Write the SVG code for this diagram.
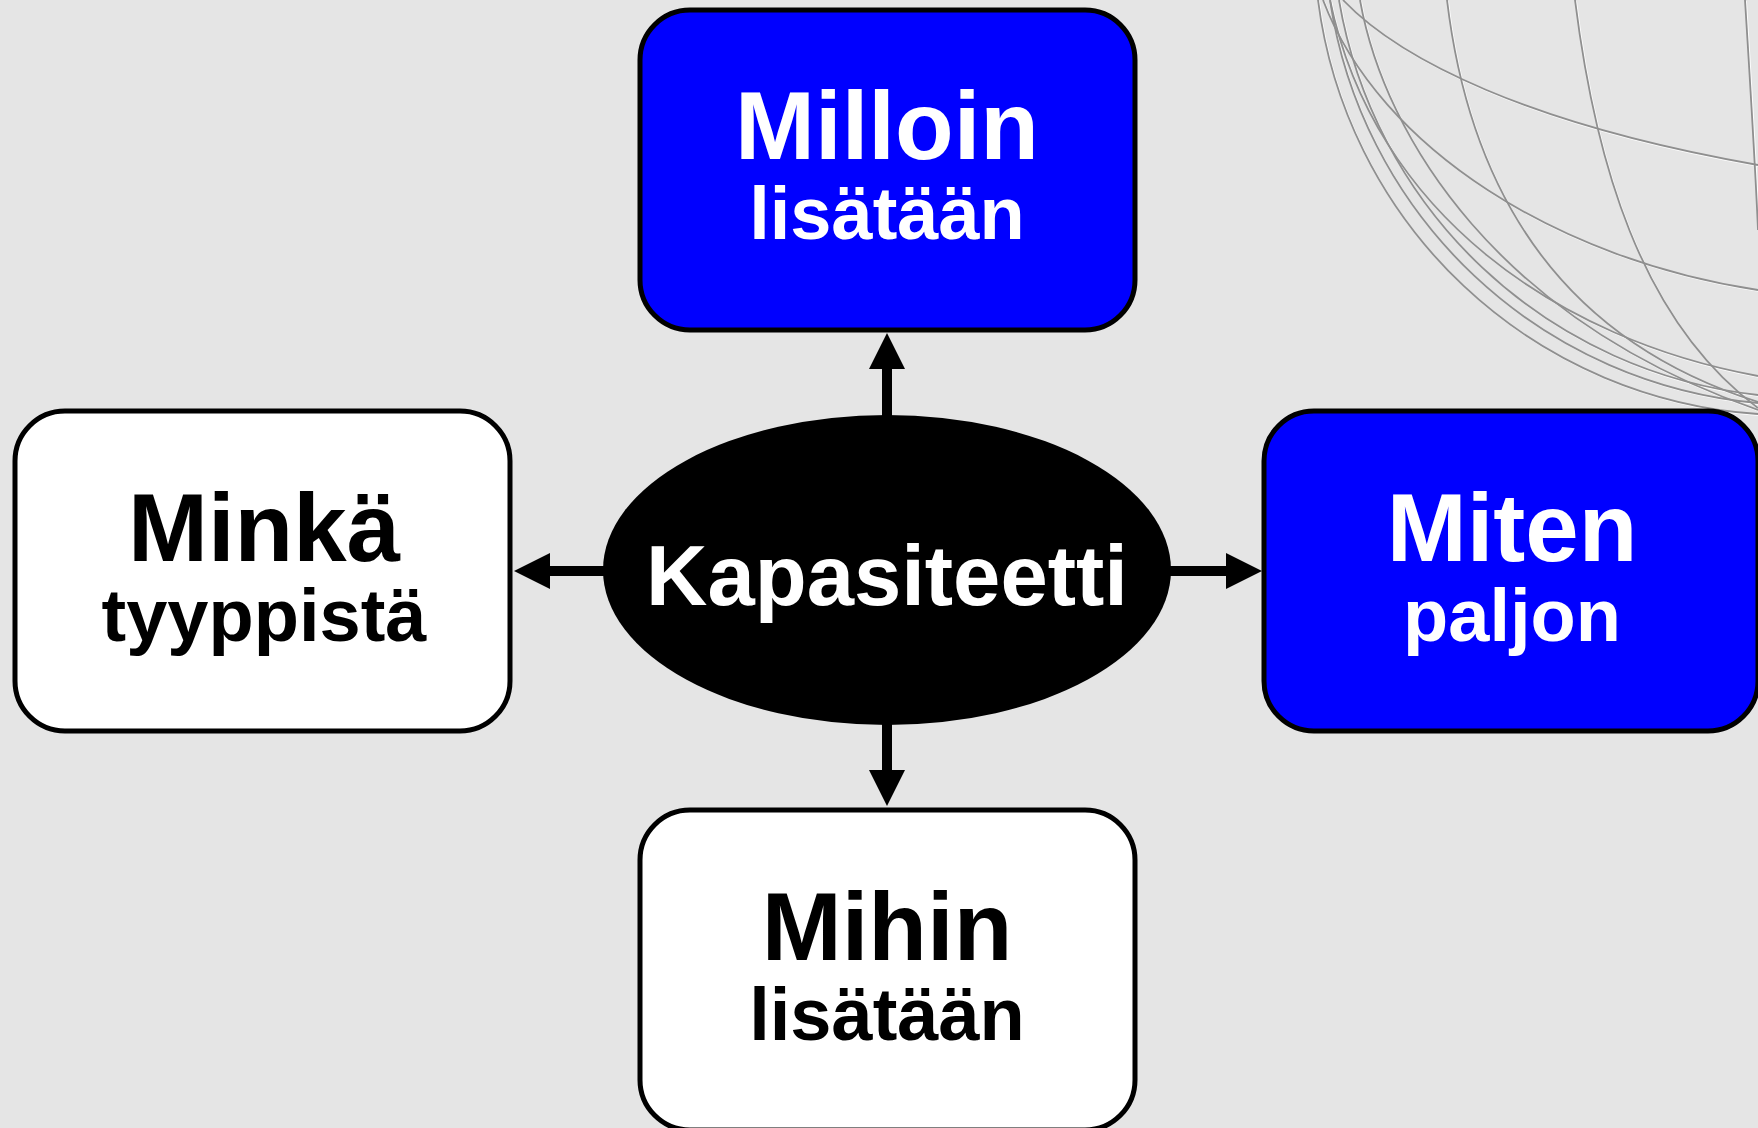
<svg xmlns="http://www.w3.org/2000/svg" xmlns:xlink="http://www.w3.org/1999/xlink" width="1758" height="1128" viewBox="0 0 1758 1128">
  <style>
    .box { stroke: #000; stroke-width: 5; }
    .blue { fill: #0000ff; }
    .white { fill: #ffffff; }
    .lbl { font-family: "Liberation Sans", Arial, sans-serif; font-weight: bold; text-anchor: middle; }
    .big { font-size: 96px; }
    .small { font-size: 74px; }
    .on-dark { fill: #ffffff; }
    .on-light { fill: #000000; }
    .conn { stroke: #000; stroke-width: 10; fill: none; marker-end: url(#head); }
    .wire { fill: none; stroke: #8f8f8f; stroke-width: 1.8; }
    .wire-hi { fill: none; stroke: #ffffff; stroke-width: 1.4; opacity: 0.9; }
  </style>
  <defs>
    <marker id="head" viewBox="0 0 36 36" refX="6" refY="18" markerWidth="36" markerHeight="36" markerUnits="userSpaceOnUse" orient="auto">
      <path d="M0,0 L36,18 L0,36 Z" fill="#000"/>
    </marker>
    <!-- wireframe globe in the top-right corner -->
    <g id="globe-lines">
      <path d="M1318,0 A475,475 0 0,0 1758,414"/>
      <path d="M1330,0 A475,475 0 0,0 1758,403"/>
      <path d="M1339,0 A478,478 0 0,0 1758,395"/>
      <path d="M1343,0 C1400,60 1530,125 1758,165"/>
      <path d="M1323,0 C1380,150 1560,260 1758,290"/>
      <path d="M1330,0 C1375,215 1560,340 1758,376"/>
      <path d="M1360,0 C1385,140 1500,320 1758,410"/>
      <path d="M1447,0 C1465,150 1530,330 1758,402"/>
      <path d="M1575,0 C1595,160 1640,320 1758,408"/>
      <path d="M1745,0 C1750,80 1755,160 1758,230"/>
    </g>
  </defs>

  <rect width="1758" height="1128" fill="#e5e5e5"/>

  <g id="globe">
    <use xlink:href="#globe-lines" class="wire-hi" transform="translate(1.3,1.3)"/>
    <use xlink:href="#globe-lines" class="wire"/>
  </g>

  <g id="connectors">
    <line class="conn" x1="887" y1="416" x2="887" y2="363"/>
    <line class="conn" x1="887" y1="724" x2="887" y2="776"/>
    <line class="conn" x1="604" y1="571" x2="544" y2="571"/>
    <line class="conn" x1="1170" y1="571" x2="1232" y2="571"/>
  </g>

  <g id="center">
    <ellipse cx="887" cy="570" rx="284" ry="155" fill="#000"/>
    <text class="lbl on-dark" x="887" y="605" font-size="85">Kapasiteetti</text>
  </g>

  <g id="milloin">
    <rect class="box blue" x="640" y="10" width="495" height="320" rx="50"/>
    <text class="lbl big on-dark" x="887" y="159">Milloin</text>
    <text class="lbl small on-dark" x="887" y="239">lisätään</text>
  </g>

  <g id="minka">
    <rect class="box white" x="15" y="411" width="495" height="320" rx="50"/>
    <text class="lbl big on-light" x="264" y="561">Minkä</text>
    <text class="lbl small on-light" x="264" y="641">tyyppistä</text>
  </g>

  <g id="miten">
    <rect class="box blue" x="1264" y="411" width="494" height="320" rx="50"/>
    <text class="lbl big on-dark" x="1512" y="561">Miten</text>
    <text class="lbl small on-dark" x="1512" y="641">paljon</text>
  </g>

  <g id="mihin">
    <rect class="box white" x="640" y="810" width="495" height="320" rx="50"/>
    <text class="lbl big on-light" x="887" y="960">Mihin</text>
    <text class="lbl small on-light" x="887" y="1040">lisätään</text>
  </g>
</svg>
